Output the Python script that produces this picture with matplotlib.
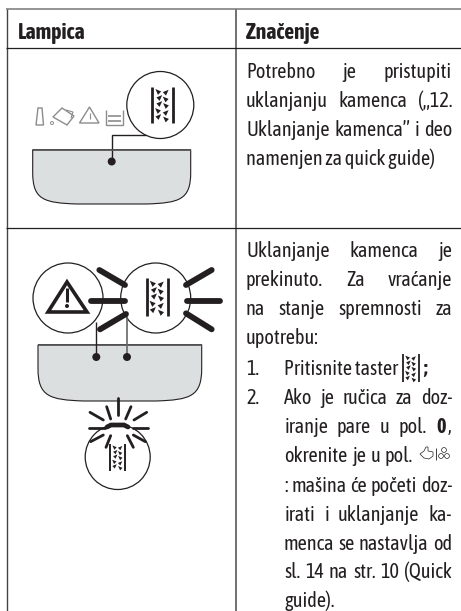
import matplotlib
matplotlib.use("Agg")
import matplotlib.pyplot as plt
from matplotlib.patches import Circle, Polygon, PathPatch
from matplotlib.path import Path

plt.rcParams["font.family"] = ["Asap Condensed", "Liberation Sans", "DejaVu Sans"]

headers = ["Lampica", "Značenje"]

# text, y centre, justified
row1_lines = [
    ("Potrebno je pristupiti", 70, True),
    ("uklanjanju kamenca („12.", 99, True),
    ("Uklanjanje kamenca” i deo", 128, True),
    ("namenjen za quick guide)", 157, False),
]
row2_lines = [
    ("Uklanjanje kamenca je", 249, True),
    ("prekinuto. Za vraćanje", 278, True),
    ("na stanje spremnosti za", 307, True),
    ("upotrebu:", 336, False),
]
list_numbers = [("1.", 367), ("2.", 396)]
list_lines = [
    ("Ako je ručica za doz-", 396, 452),
    ("iranje pare u pol.", 425, 427),
    ("okrenite je u pol.", 454, 413),
    (": mašina će početi doz-", 484, 452),
    ("irati i uklanjanje ka-", 513, 452),
    ("menca se nastavlja od", 542, 452),
    ("sl. 14 na str. 10 (Quick", 570, 452),
    ("guide).", 599, None),
]

# triangles of the descaling icon, centre and direction, px from icon centre
tri_x = [-4.2, 3.2, -3.2, 3.2, -3.2, 3.5, -4.5, 3.2, -4.2, 3.5]
tri_y = [-12.5, -11.8, -6.5, -5, -0.5, 1.5, 6.5, 8.5, 12.5, 15]
tri_dir = [1, -1, -1, 1, -1, 1, 1, -1, -1, 1]

# rays, in 3x zoom px
rays_top = [
    (298, 90, 375, 135), (272, 182, 375, 182), (300, 268, 378, 222),
    (558, 135, 635, 90), (560, 182, 660, 182), (558, 220, 635, 268),
]
rays_low = [
    (355, 475, 355, 525), (320, 500, 332, 537), (393, 500, 377, 537),
    (270, 517, 310, 540), (440, 517, 402, 540), (268, 564, 315, 564),
    (400, 564, 445, 564), (272, 605, 310, 585), (436, 605, 400, 585),
    (318, 622, 332, 587), (400, 622, 382, 587),
]

DARK = "#231f20"
GRAY = "#8a8c8e"
TUB = "#dcdfe0"
FS = 14.6
FS_HEAD = 15.6

fig = plt.figure(figsize=(4.61, 6.11), dpi=100)
ax = fig.add_axes([0, 0, 1, 1])
ax.set_xlim(0, 461)
ax.set_ylim(611, 0)
ax.axis("off")


def line(xs, ys, lw=1.0, c=DARK, cap="butt"):
    ax.plot(xs, ys, color=c, lw=lw, solid_capstyle=cap, solid_joinstyle="miter")


def put(x, y, s, **kw):
    kw.setdefault("fontsize", FS)
    kw.setdefault("color", DARK)
    return ax.text(x, y, s, va="center_baseline", ha="left", **kw)


def justify(s, y, x0, x1):
    words = s.split(" ")
    rend = fig.canvas.get_renderer()
    items = [put(x0, y, w) for w in words]
    widths = [t.get_window_extent(rend).width for t in items]
    gap = (x1 - x0 - sum(widths)) / (len(words) - 1)
    x = x0
    for t, w in zip(items, widths):
        t.set_x(x)
        x += w + gap


def scale_icon(cx, cy, k, lw=2.0):
    for dx in (-10.2, 10.2):
        line([cx + dx * k, cx + dx * k], [cy - 18 * k, cy + 18 * k], lw=lw)
    for tx, ty, d in zip(tri_x, tri_y, tri_dir):
        x = cx + tx * k
        y = cy + ty * k
        r = 2.9 * k
        pts = [(x - d * r, y - r), (x + d * r, y - r * 0.2), (x - d * r * 0.1, y + r)]
        ax.add_patch(Polygon(pts, closed=True, fc=DARK, ec="none"))


def tub(left, right, top, bottom, edge_c="#555555"):
    w = right - left
    h = bottom - top
    verts = [
        (left, top), (left, top + h * 0.42),
        (left, top + h * 0.92), (left + w * 0.07, bottom - h * 0.02), (left + w * 0.28, bottom),
        (right - w * 0.28, bottom),
        (right - w * 0.07, bottom - h * 0.02), (right, top + h * 0.92), (right, top + h * 0.42),
        (right, top), (left, top),
    ]
    codes = [Path.MOVETO, Path.LINETO, Path.CURVE4, Path.CURVE4, Path.CURVE4, Path.LINETO,
             Path.CURVE4, Path.CURVE4, Path.CURVE4, Path.LINETO, Path.LINETO]
    ax.add_patch(PathPatch(Path(verts, codes), fc=TUB, ec=DARK, lw=0.8))
    line([left, right], [top, top], lw=1.2, c=edge_c)


def circle(cx, cy, r, lw=0.9):
    ax.add_patch(Circle((cx, cy), r, fc="white", ec=DARK, lw=lw))


def dot(x, y, r=4):
    ax.add_patch(Circle((x, y), r, fc=DARK, ec="none", zorder=5))


def rays(items, y0, lw):
    for x1, y1, x2, y2 in items:
        line([x1 / 3, x2 / 3], [y0 + y1 / 3, y0 + y2 / 3], lw=lw, cap="round")


# table
line([6.5, 6.5], [9, 611], lw=1.0, c="#444444")
line([235.5, 235.5], [9, 611], lw=1.3, c="#666666")
line([6, 461], [9, 9], lw=1.1, c="#777777")
line([6, 461], [48, 48], lw=0.9)
line([6, 461], [227.5, 227.5], lw=0.9)

put(18, 30, headers[0], fontsize=FS_HEAD, fontweight="bold")
put(246, 30, headers[1], fontsize=FS_HEAD, fontweight="bold")

# text right column
for s, y, just in row1_lines + row2_lines:
    if just:
        justify(s, y, 246, 452)
    else:
        put(246, y, s)

for s, y in list_numbers:
    put(246, y, s)
for s, y, x1 in list_lines:
    if x1 is None:
        put(284, y, s)
    else:
        justify(s, y, 284, x1)

put(284, 367, "Pritisnite taster")
scale_icon(411, 368, 0.8, lw=1.3)
put(423, 367, ";", fontweight="bold")
put(436.5, 425, "0", fontweight="bold")
put(448, 425, ",")

# pedal/steam icon in text
hand = [(420, 454), (424, 451), (426, 447), (428, 447), (428, 451), (433, 452), (433, 456), (429, 459), (424, 458)]
ax.add_patch(Polygon(hand, closed=True, fc="white", ec=DARK, lw=0.5))
line([436, 436], [448, 460], lw=0.6)
for x, y in [(444, 450), (441, 456), (447, 456)]:
    ax.add_patch(Circle((x, y), 2.4, fc="white", ec=DARK, lw=0.5))

# row 1 icons
ax.add_patch(Polygon([(36, 125), (43.5, 125), (42, 108), (38, 108)], closed=True, fc="white", ec=GRAY, lw=1.0))
ax.add_patch(Polygon([(53, 117), (62, 108), (74, 116), (67, 125)], closed=True, fc="white", ec=GRAY, lw=1.0))
line([66, 73, 71], [110, 112, 118], lw=0.8, c=GRAY)
ax.add_patch(Circle((52, 123), 1.5, fc="white", ec=GRAY, lw=0.7))
ax.add_patch(Polygon([(79.5, 123), (89.5, 107), (99, 123)], closed=True, fc="white", ec=GRAY, lw=1.0))
line([89.5, 89.5], [113, 119], lw=0.8, c=GRAY)
line([106, 106, 122.5, 122.5], [110, 125, 125, 110], lw=1.0, c=GRAY)
line([108, 121], [116, 116], lw=1.2, c=GRAY)
line([108, 121], [121, 121], lw=1.2, c=GRAY)

line([111.7, 111.7, 146], [161, 135.3, 135.3], lw=1.0)
tub(32.7, 190.7, 149.7, 204)
dot(111.7, 161.5)
circle(160.3, 105, 33.5)
scale_icon(162.5, 104.5, 1.0)

# row 2 icons
tub(38, 201.7, 344.7, 401)
circle(68, 298, 35)
circle(155.7, 298, 35)
line([96.3, 96.3], [322, 357], lw=1.0)
line([127, 127], [315, 357], lw=1.2, c="#666666")
dot(96.3, 357)
dot(127, 357)
ax.add_patch(Polygon([(67, 282), (48, 312), (87, 312)], closed=True, fc="none", ec=DARK, lw=2.6))
line([67, 67], [288, 302], lw=2.2)
dot(67, 306, 2)
scale_icon(157.3, 297, 1.05)
rays(rays_top, 240, 4.2)

circle(117.7, 457, 32.5)
scale_icon(117.7, 457, 0.75, lw=1.4)
rays(rays_low, 240, 2.0)
line([107, 111, 124, 128], [427, 425, 425, 427], lw=3.4, cap="round")

fig.savefig("out.png", dpi=100)
